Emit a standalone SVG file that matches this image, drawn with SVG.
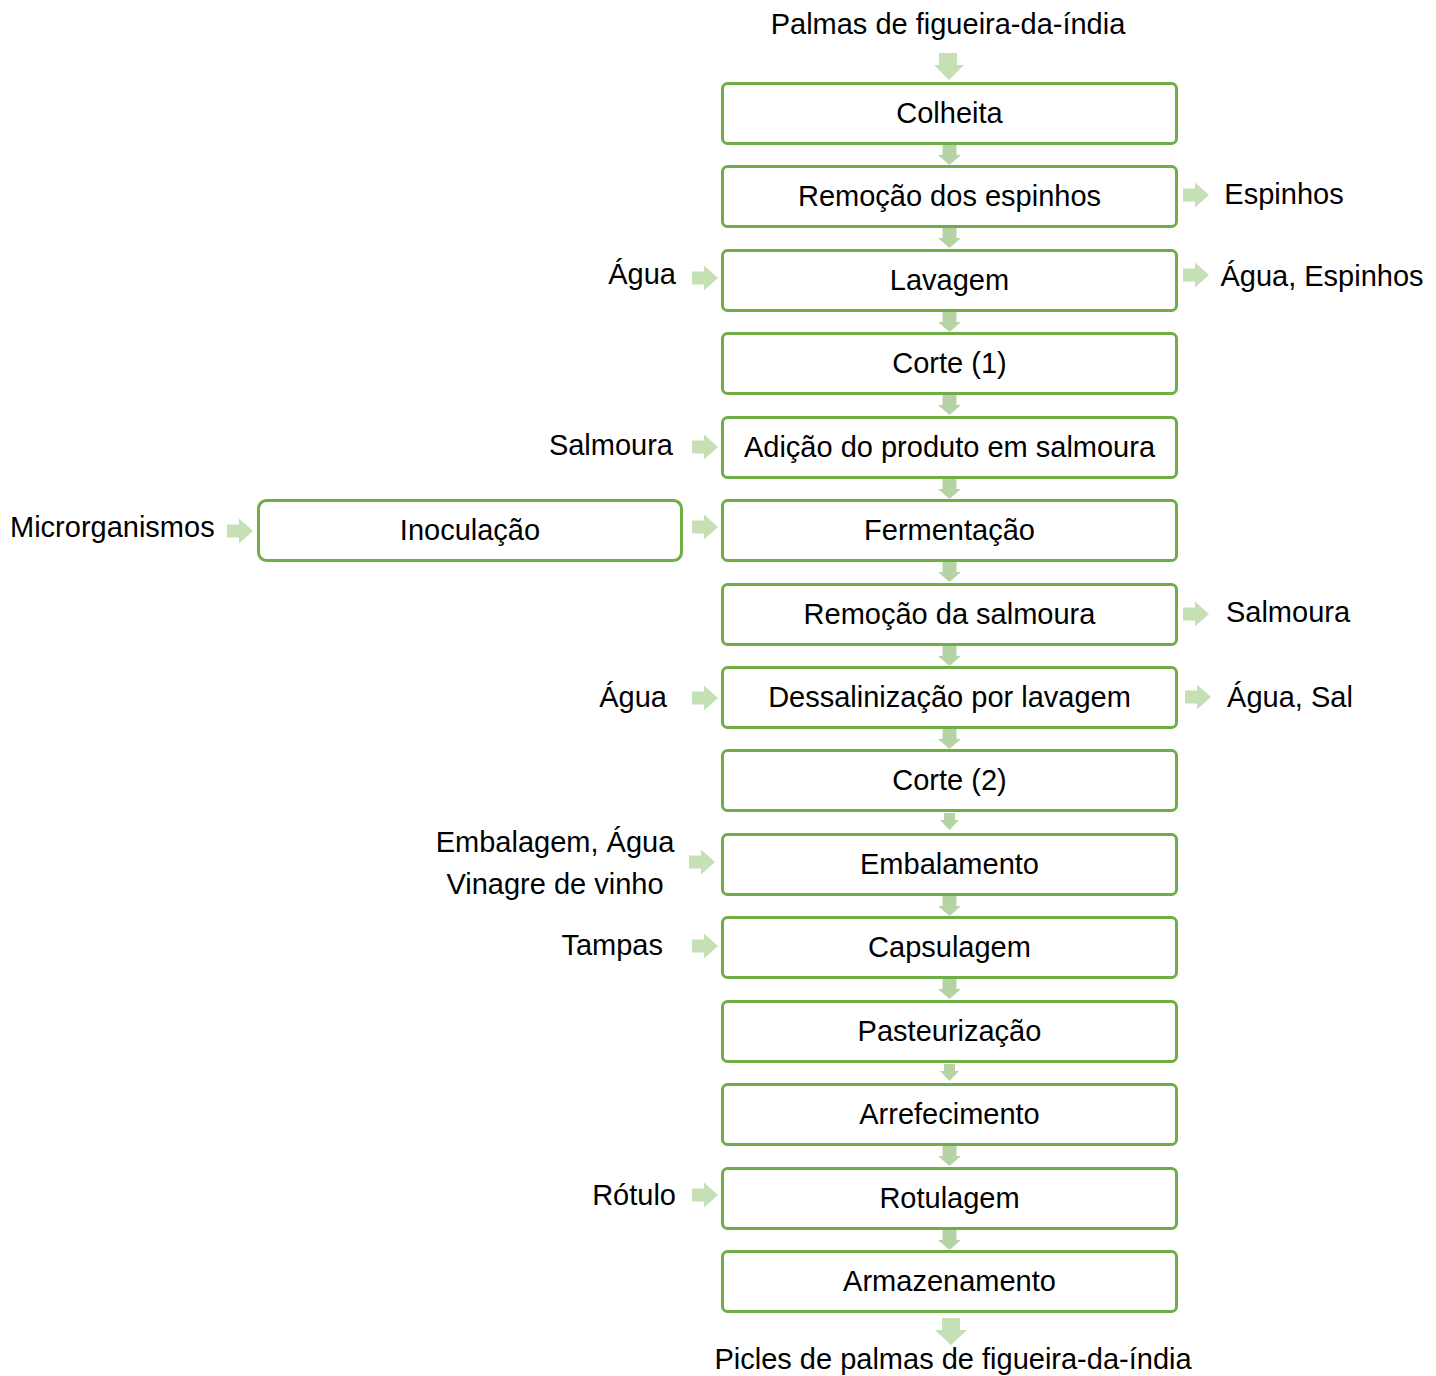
<svg xmlns="http://www.w3.org/2000/svg" width="1436" height="1376" viewBox="0 0 1436 1376">
<style>
text{font-family:"Liberation Sans",Arial,sans-serif;font-size:29px;fill:#000}
.c{text-anchor:middle}
.e{text-anchor:end}
.box{fill:#fff;stroke:#70ad47;stroke-width:3}
.ar{fill:#c5e0b4}
.ad{fill:#b5d3a4}
</style>
<defs>
<path id="dn" d="M-7,0 H7 V12 H11.5 L0,22 L-11.5,12 H-7 Z"/>
<path id="rt" d="M0,-6.5 H12 V-12.5 L26,0 L12,12.5 V6.5 H0 Z"/>
</defs>
<rect width="1436" height="1376" fill="#fff"/>
<g id="connectors">
<path class="ar" d="M939,53 H957 V65 H964 L949,80 L934,65 H939 Z"/>
<use href="#dn" class="ad" x="949.5" y="143"/>
<use href="#dn" class="ad" x="949.5" y="226"/>
<use href="#dn" class="ad" x="949.5" y="310"/>
<use href="#dn" class="ad" x="949.5" y="393"/>
<use href="#dn" class="ad" x="949.5" y="477"/>
<use href="#dn" class="ad" x="949.5" y="560"/>
<use href="#dn" class="ad" x="949.5" y="644"/>
<use href="#dn" class="ad" x="949.5" y="727"/>
<path class="ad" d="M944,813 H955 V820 H959 L949.5,830 L940,820 H944 Z"/>
<use href="#dn" class="ad" x="949.5" y="894"/>
<use href="#dn" class="ad" x="949.5" y="977"/>
<path class="ad" d="M944,1064 H955 V1071 H959 L949.5,1081 L940,1071 H944 Z"/>
<use href="#dn" class="ad" x="949.5" y="1144"/>
<use href="#dn" class="ad" x="949.5" y="1228"/>
<path class="ar" d="M942,1318 H960 V1330 H967 L951,1345 L935,1330 H942 Z"/>
<use href="#rt" class="ar" x="1183" y="195"/>
<use href="#rt" class="ar" x="1183" y="275"/>
<use href="#rt" class="ar" x="1183" y="614"/>
<use href="#rt" class="ar" x="1185" y="697"/>
<use href="#rt" class="ar" x="692" y="278"/>
<use href="#rt" class="ar" x="692" y="447"/>
<use href="#rt" class="ar" x="692" y="527"/>
<use href="#rt" class="ar" x="227" y="531"/>
<use href="#rt" class="ar" x="692" y="698"/>
<use href="#rt" class="ar" x="689" y="862"/>
<use href="#rt" class="ar" x="692" y="946"/>
<use href="#rt" class="ar" x="692" y="1195"/>
</g>
<g id="n1"><rect class="box" x="722.5" y="83.5" width="454" height="60" rx="5"/><text class="c" x="949.5" y="123">Colheita</text></g>
<g id="n2"><rect class="box" x="722.5" y="166.5" width="454" height="60" rx="5"/><text class="c" x="949.5" y="206">Remoção dos espinhos</text></g>
<g id="n3"><rect class="box" x="722.5" y="250.5" width="454" height="60" rx="5"/><text class="c" x="949.5" y="290">Lavagem</text></g>
<g id="n4"><rect class="box" x="722.5" y="333.5" width="454" height="60" rx="5"/><text class="c" x="949.5" y="373">Corte (1)</text></g>
<g id="n5"><rect class="box" x="722.5" y="417.5" width="454" height="60" rx="5"/><text class="c" x="949.5" y="457">Adição do produto em salmoura</text></g>
<g id="n6"><rect class="box" x="722.5" y="500.5" width="454" height="60" rx="5"/><text class="c" x="949.5" y="540">Fermentação</text></g>
<g id="n7"><rect class="box" x="722.5" y="584.5" width="454" height="60" rx="5"/><text class="c" x="949.5" y="624">Remoção da salmoura</text></g>
<g id="n8"><rect class="box" x="722.5" y="667.5" width="454" height="60" rx="5"/><text class="c" x="949.5" y="707">Dessalinização por lavagem</text></g>
<g id="n9"><rect class="box" x="722.5" y="750.5" width="454" height="60" rx="5"/><text class="c" x="949.5" y="790">Corte (2)</text></g>
<g id="n10"><rect class="box" x="722.5" y="834.5" width="454" height="60" rx="5"/><text class="c" x="949.5" y="874">Embalamento</text></g>
<g id="n11"><rect class="box" x="722.5" y="917.5" width="454" height="60" rx="5"/><text class="c" x="949.5" y="957">Capsulagem</text></g>
<g id="n12"><rect class="box" x="722.5" y="1001.5" width="454" height="60" rx="5"/><text class="c" x="949.5" y="1041">Pasteurização</text></g>
<g id="n13"><rect class="box" x="722.5" y="1084.5" width="454" height="60" rx="5"/><text class="c" x="949.5" y="1124">Arrefecimento</text></g>
<g id="n14"><rect class="box" x="722.5" y="1168.5" width="454" height="60" rx="5"/><text class="c" x="949.5" y="1208">Rotulagem</text></g>
<g id="n15"><rect class="box" x="722.5" y="1251.5" width="454" height="60" rx="5"/><text class="c" x="949.5" y="1291">Armazenamento</text></g>
<g id="inoc"><rect class="box" x="258.5" y="500.5" width="423" height="60" rx="8"/><text class="c" x="470" y="540">Inoculação</text></g>
<g id="labels">
<text class="c" x="948" y="34">Palmas de figueira-da-índia</text>
<text class="c" x="1284" y="204">Espinhos</text>
<text class="e" x="676" y="284">Água</text>
<text class="c" x="1322" y="286">Água, Espinhos</text>
<text class="e" x="673" y="455">Salmoura</text>
<text x="10" y="537">Microrganismos</text>
<text class="c" x="1288" y="622">Salmoura</text>
<text class="e" x="667" y="707">Água</text>
<text class="c" x="1290" y="707">Água, Sal</text>
<text class="c" x="555" y="852">Embalagem, Água</text>
<text class="c" x="555" y="894">Vinagre de vinho</text>
<text class="e" x="663" y="955">Tampas</text>
<text class="e" x="676" y="1205">Rótulo</text>
<text class="c" x="953" y="1369">Picles de palmas de figueira-da-índia</text>
</g>
</svg>
